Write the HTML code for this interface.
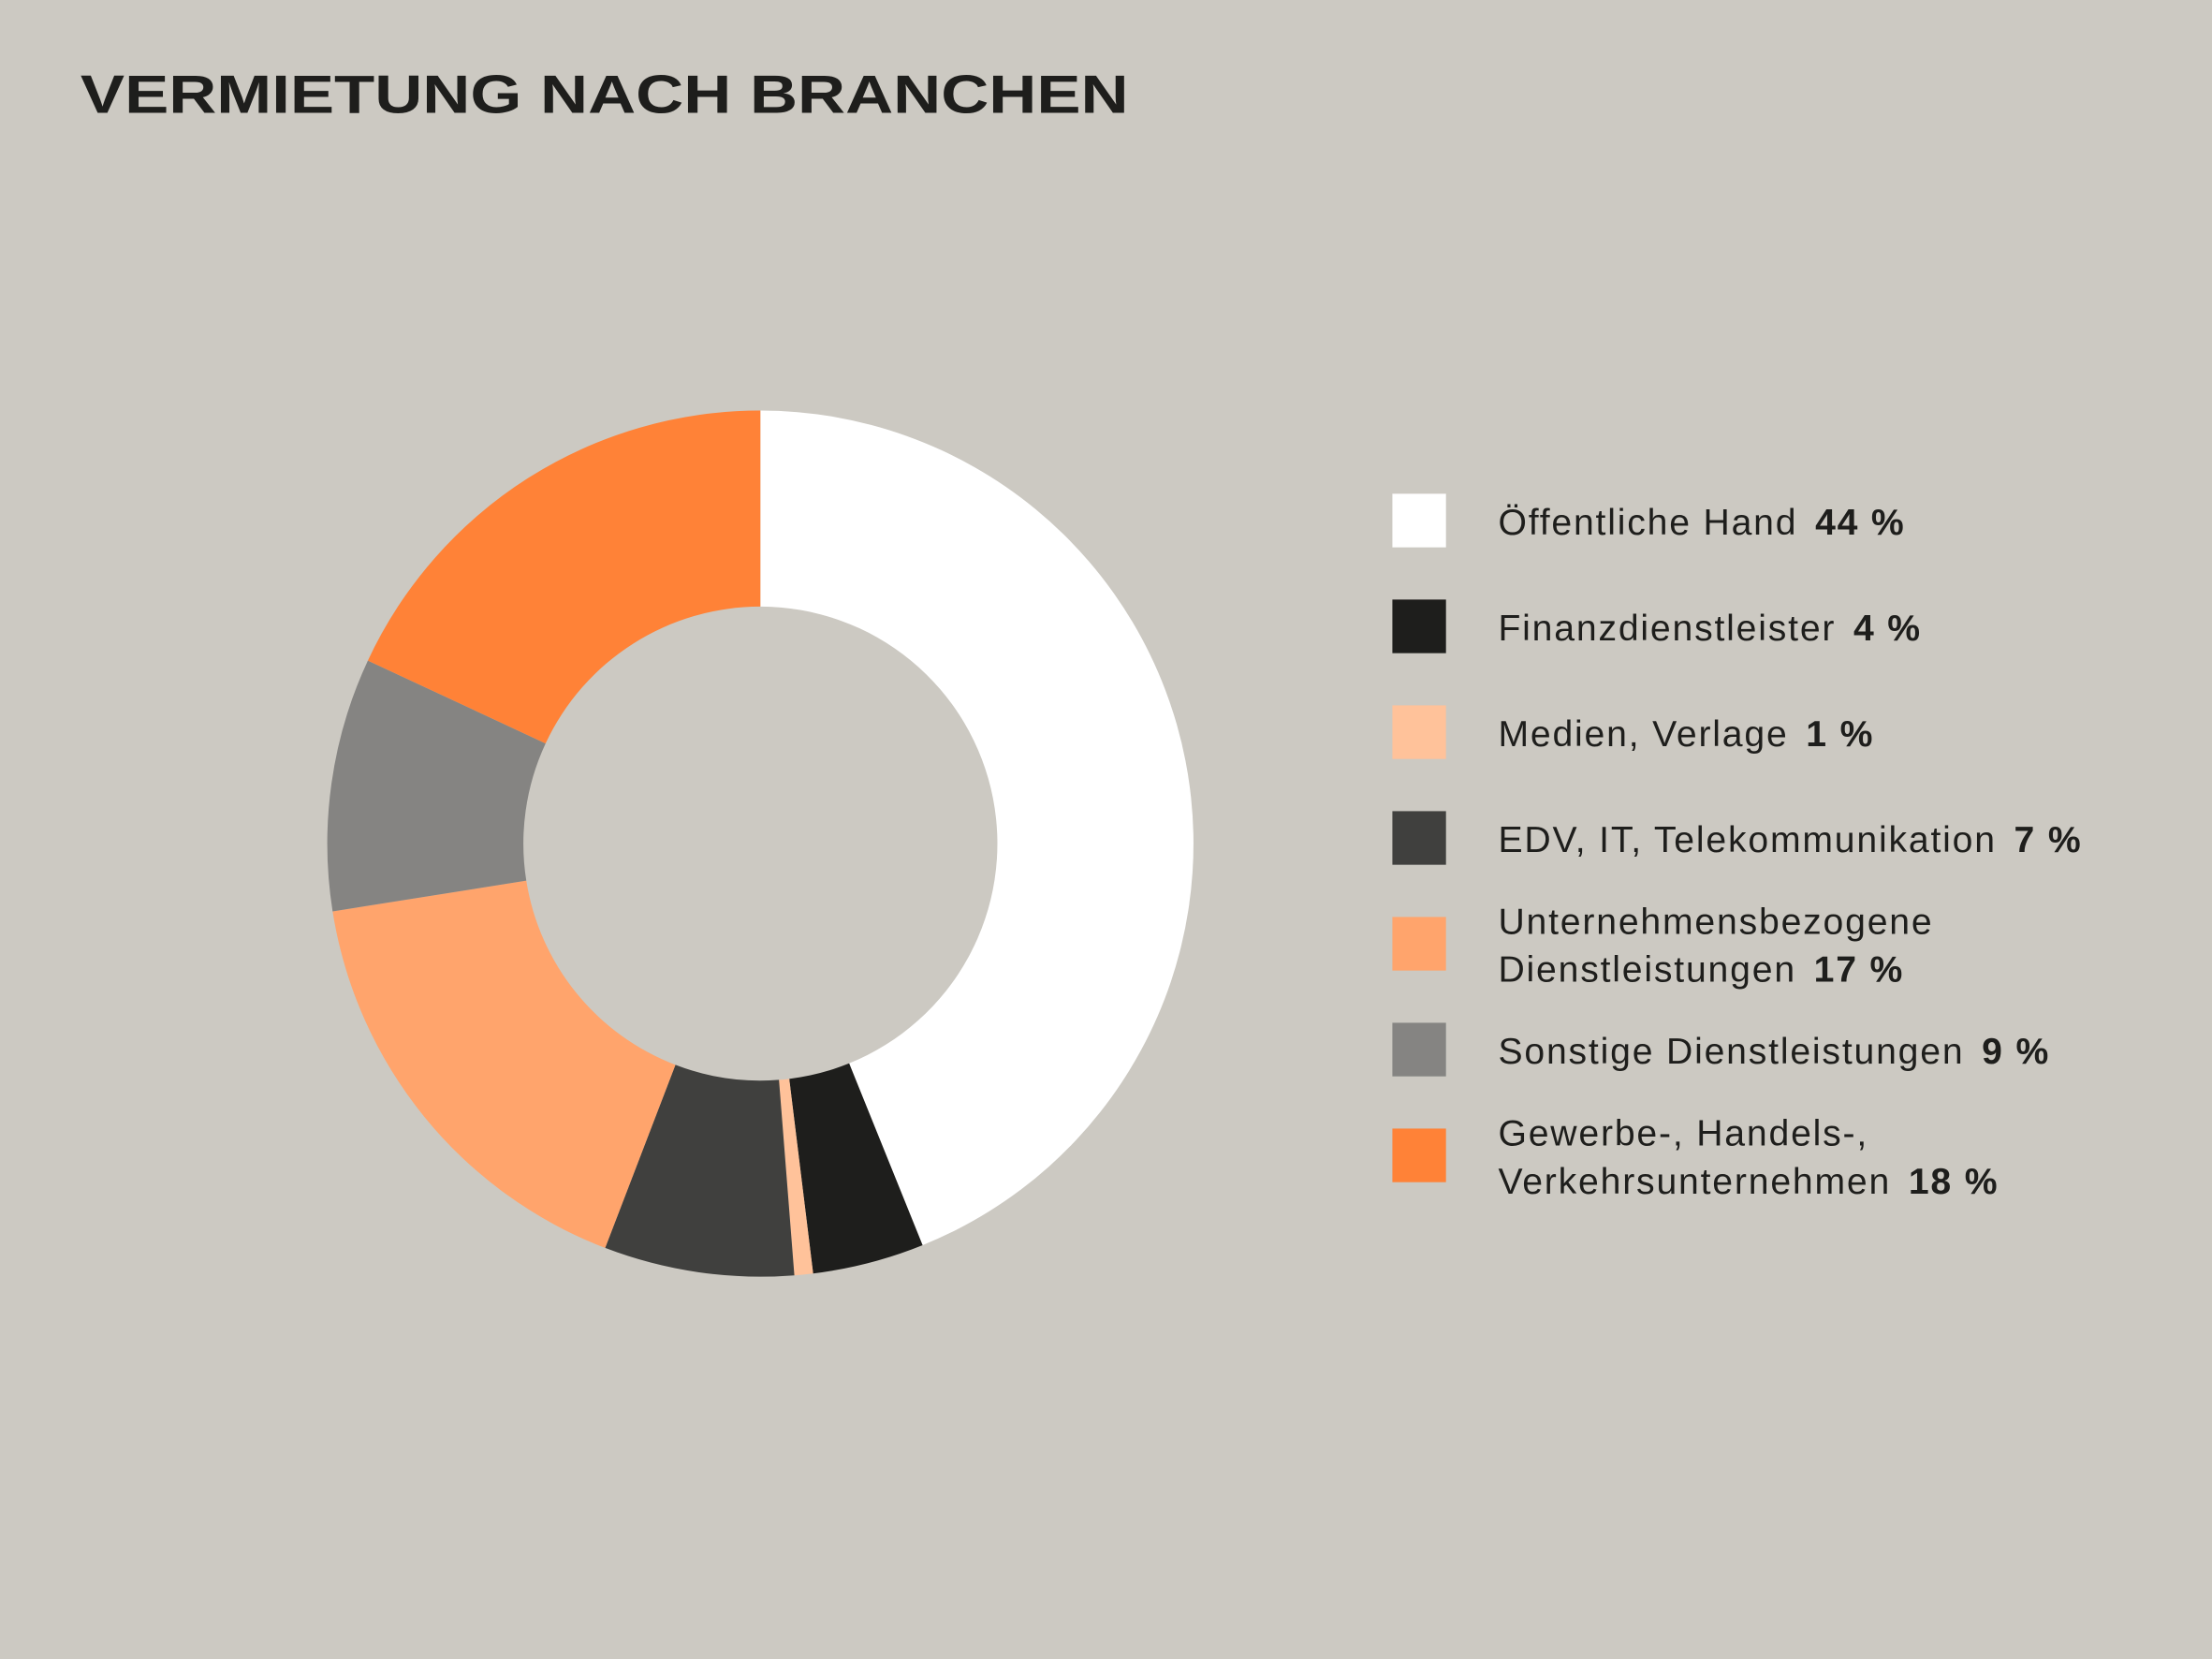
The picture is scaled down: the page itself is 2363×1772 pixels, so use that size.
<!DOCTYPE html>
<html><head><meta charset="utf-8"><style>
html,body{margin:0;padding:0;background:#ccc9c2;}
svg{display:block}
text{font-family:"Liberation Sans",sans-serif;fill:#1e1e1c}
</style></head><body>
<svg id="s" width="2363" height="1772" viewBox="0 0 1568 1176" preserveAspectRatio="none" xmlns="http://www.w3.org/2000/svg">
<rect width="1568" height="1176" fill="#ccc9c2"/>
<text x="57" y="80" font-size="38" font-weight="bold" textLength="743" lengthAdjust="spacingAndGlyphs">VERMIETUNG NACH BRANCHEN</text>
<g id="donut"></g>
<g font-size="26" letter-spacing="1.2">
<rect x="987" y="350" width="38" height="38" fill="#ffffff"/>
<text x="1062" y="379">Öffentliche Hand <tspan font-weight="bold" dx="4">44 %</tspan></text>
<rect x="987" y="425" width="38" height="38" fill="#1e1e1c"/>
<text x="1062" y="454">Finanzdienstleister <tspan font-weight="bold" dx="4">4 %</tspan></text>
<rect x="987" y="500" width="38" height="38" fill="#ffc29a"/>
<text x="1062" y="529">Medien, Verlage <tspan font-weight="bold" dx="4">1 %</tspan></text>
<rect x="987" y="575" width="38" height="38" fill="#40403e"/>
<text x="1062" y="604">EDV, IT, Telekommunikation <tspan font-weight="bold" dx="4">7 %</tspan></text>
<rect x="987" y="650" width="38" height="38" fill="#ffa46c"/>
<text x="1062" y="662">Unternehmensbezogene</text>
<text x="1062" y="696">Dienstleistungen <tspan font-weight="bold" dx="4">17 %</tspan></text>
<rect x="987" y="725" width="38" height="38" fill="#858482"/>
<text x="1062" y="754">Sonstige Dienstleistungen <tspan font-weight="bold" dx="4">9 %</tspan></text>
<rect x="987" y="800" width="38" height="38" fill="#ff8237"/>
<text x="1062" y="812">Gewerbe-, Handels-,</text>
<text x="1062" y="846">Verkehrsunternehmen <tspan font-weight="bold" dx="4">18 %</tspan></text>
</g>
</svg>
<script>
var cx=539,cy=598,R=307,r=168;
var a=[0,158,173,175.5,201,261,295,360];
var c=["#ffffff","#1e1e1c","#ffc29a","#40403e","#ffa46c","#858482","#ff8237"];
function p(rad,deg){var t=deg*Math.PI/180;return (cx+rad*Math.sin(t)).toFixed(2)+","+(cy-rad*Math.cos(t)).toFixed(2);}
var h="";
for(var i=0;i<7;i++){var s=a[i],e=a[i+1],l=(e-s)>180?1:0;
h+='<path fill="'+c[i]+'" d="M'+p(R,s)+' A'+R+','+R+' 0 '+l+' 1 '+p(R,e)+' L'+p(r,e)+' A'+r+','+r+' 0 '+l+' 0 '+p(r,s)+' Z"/>';}
document.getElementById("donut").innerHTML=h;
</script>
</body></html>
